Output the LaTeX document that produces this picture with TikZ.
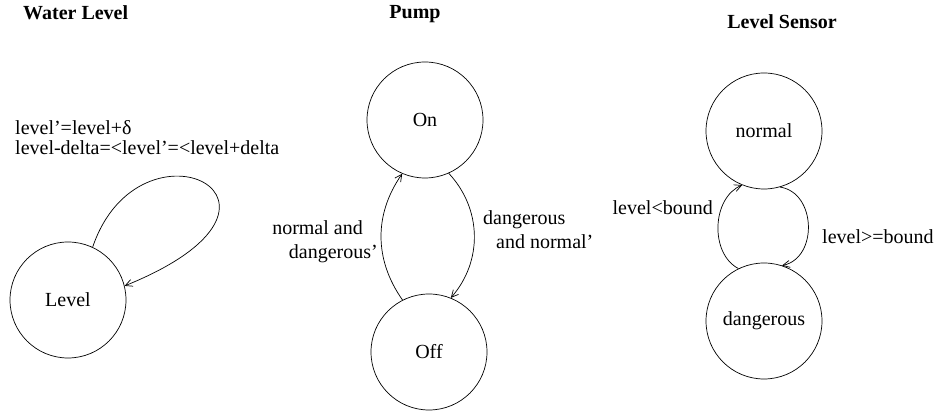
\documentclass[tikz,border=0pt]{standalone}
\usepackage{fontspec}
\setmainfont{Liberation Serif}
\usetikzlibrary{arrows.meta}

\begin{document}
\begin{tikzpicture}[
    x=1pt, y=1pt,
    every node/.style={font=\fontsize{20}{24}\selectfont, inner sep=0pt},
    state/.style={circle, draw, line width=0.7pt, minimum size=116pt},
    title/.style={font=\fontsize{20}{24}\selectfont\bfseries},
    trans/.style={line width=0.7pt, -{Straight Barb[length=7pt,width=7pt]}}
]
\useasboundingbox (0,0) rectangle (939,414);

% Water Level
\node[title, anchor=west] (tlevel) at (23,401) {Water Level};
\node[state] (level) at (68,114) {Level};
\node[anchor=west, align=left, font=\fontsize{20}{20}\selectfont] (lloop) at (15,276) {level'=level+δ\\level-delta=<level'=<level+delta};
\draw[trans] (level.65) .. controls (140,306) and (332,212) .. (level.14);

% Pump
\node[title] (tpump) at (415,400) {Pump};
\node[state] (on) at (425,294) {On};
\node[state] (off) at (429,62) {Off};
\draw[trans] (off.117) to[bend left=35] (on.247);
\draw[trans] (on.294) to[bend left=42] (off.68);
\node[anchor=east, align=right] (lup) at (378,172) {normal and\hspace*{15pt}\\dangerous'};
\node[anchor=west, align=left] (ldown) at (483,184) {dangerous\\\hspace*{13pt}and normal'};

% Level Sensor
\node[title] (tsensor) at (782,392) {Level Sensor};
\node[state] (normal) at (764,283) {normal};
\node[state] (danger) at (764,93) {dangerous};
\draw[trans] (danger.116) to[bend left=65] (normal.248);
\draw[trans] (normal.286) to[bend left=80, looseness=1.2] (danger.72);
\node[anchor=east] (lbelow) at (713,206) {level<bound};
\node[anchor=west] (labove) at (822,177) {level>=bound};
\end{tikzpicture}
\end{document}
